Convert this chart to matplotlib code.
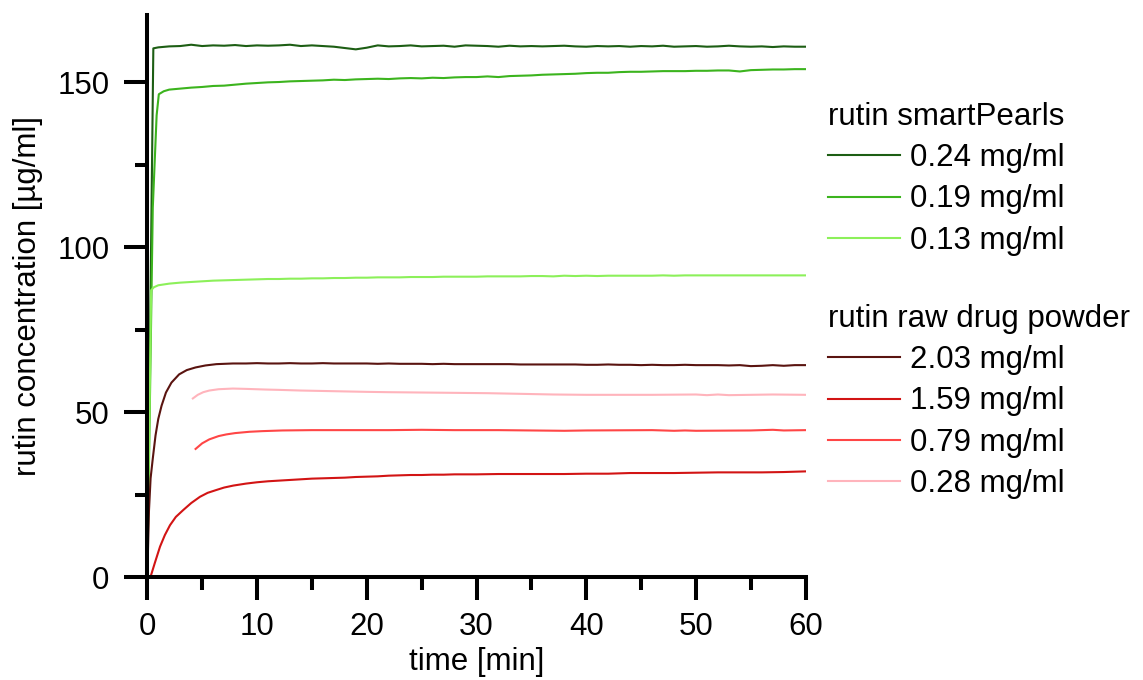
import matplotlib
matplotlib.use("Agg")
import matplotlib.pyplot as plt
from matplotlib.ticker import MultipleLocator

plt.rcParams["font.family"] = ["Liberation Sans", "DejaVu Sans"]

# ---- data: rutin dissolution, concentration [µg/ml] vs time [min] ----
minutes = list(range(1, 61))

t_sp024 = [0, 0.55] + minutes
c_sp024 = [0, 160.3,
           160.6, 160.9, 161.0, 161.4, 161.0, 161.2, 161.1, 161.3, 161.0, 161.2,
           161.1, 161.2, 161.4, 161.0, 161.2, 161.0, 160.8, 160.4, 160.0, 160.5,
           161.2, 160.9, 161.0, 161.2, 160.9, 161.0, 161.1, 160.8, 161.2, 161.1,
           161.0, 160.8, 161.1, 160.9, 161.0, 160.9, 161.0, 161.1, 160.9, 160.8,
           161.0, 160.9, 161.0, 160.8, 161.0, 160.9, 161.1, 160.8, 160.9, 161.0,
           160.8, 160.9, 161.1, 160.9, 160.8, 160.9, 160.7, 160.9, 160.8, 160.8]

t_sp019 = [0, 0.5, 0.85, 1.05, 1.5] + minutes[1:]
c_sp019 = [0, 112.0, 140.0, 146.4, 147.3,
           147.8, 148.1, 148.4, 148.6, 148.9, 149.0, 149.3, 149.6, 149.8, 150.0,
           150.1, 150.3, 150.4, 150.5, 150.6, 150.8, 150.7, 150.9, 151.0, 151.1,
           151.0, 151.2, 151.3, 151.2, 151.4, 151.3, 151.5, 151.6, 151.6, 151.8,
           151.6, 151.9, 152.0, 152.1, 152.3, 152.4, 152.5, 152.6, 152.8, 152.9,
           152.9, 153.1, 153.2, 153.2, 153.3, 153.4, 153.4, 153.4, 153.5, 153.5,
           153.6, 153.6, 153.3, 153.7, 153.8, 153.9, 153.9, 154.0, 154.0]

t_sp013 = [0, 0.35, 0.6] + minutes
c_sp013 = [0, 87.0, 87.9,
           88.5, 89.0, 89.3, 89.5, 89.7, 89.9, 90.0, 90.1, 90.2, 90.3,
           90.4, 90.4, 90.5, 90.5, 90.6, 90.6, 90.7, 90.7, 90.8, 90.8,
           90.9, 90.9, 90.9, 91.0, 91.0, 91.0, 91.1, 91.1, 91.1, 91.1,
           91.2, 91.2, 91.2, 91.2, 91.3, 91.3, 91.2, 91.4, 91.3, 91.4,
           91.3, 91.4, 91.4, 91.4, 91.4, 91.4, 91.5, 91.4, 91.5, 91.5,
           91.5, 91.5, 91.5, 91.5, 91.5, 91.5, 91.5, 91.5, 91.5, 91.5]

t_rp203 = [0, 0.15, 0.3, 0.5, 0.75, 1.0, 1.3, 1.7, 2.2, 2.9, 3.6, 4.4, 5.3,
           6.3, 7.8] + minutes[8:]
c_rp203 = [0, 20.0, 30.0, 36.0, 43.0, 48.0, 52.0, 56.0, 59.0, 61.5, 62.8,
           63.6, 64.2, 64.6, 64.8,
           64.8, 64.9, 64.8, 64.8, 64.9, 64.8, 64.8, 64.9, 64.8, 64.8, 64.8, 64.8,
           64.7, 64.8, 64.7, 64.7, 64.7, 64.6, 64.7, 64.6, 64.6, 64.6, 64.6, 64.6,
           64.6, 64.5, 64.5,
           64.5, 64.5, 64.5, 64.5, 64.4, 64.4, 64.5, 64.4, 64.4, 64.3, 64.4, 64.3,
           64.3, 64.4, 64.3,
           64.3, 64.3, 64.2, 64.3, 64.0, 64.1, 64.3, 64.1, 64.3, 64.3]

t_rp159 = [0, 0.3, 0.7, 1.16, 1.6, 2.07, 2.6, 3.28, 4.0, 4.8, 5.5, 6.33, 7.0,
           7.84, 9, 10, 11, 12, 13, 14, 15, 16, 17, 18, 19, 20, 21, 22, 23, 24,
           25, 26, 27, 28, 29, 30, 32, 34, 36, 38, 40, 42, 44, 46, 48, 50, 52,
           54, 56, 58, 60]
c_rp159 = [0, 0.2, 4.5, 9.3, 12.8, 15.8, 18.3, 20.4, 22.5, 24.4, 25.6, 26.5,
           27.2, 27.8, 28.4, 28.8, 29.1, 29.3, 29.5, 29.7, 29.9, 30.0, 30.1,
           30.2, 30.4, 30.5, 30.6, 30.8, 30.9, 31.0, 31.0, 31.1, 31.1, 31.2,
           31.2, 31.2, 31.3, 31.3, 31.3, 31.3, 31.4, 31.4, 31.6, 31.6, 31.6,
           31.7, 31.8, 31.8, 31.8, 31.9, 32.1]

t_rp079 = [4.4, 5.0, 5.65, 6.5, 7.2, 8, 9.3, 10.5, 12.3, 15, 18, 22, 25, 28,
           32, 38, 40, 46, 48, 49, 50, 55, 57, 58, 60]
c_rp079 = [38.9, 40.6, 41.8, 42.8, 43.3, 43.7, 44.1, 44.3, 44.5, 44.6, 44.6,
           44.6, 44.7, 44.6, 44.6, 44.4, 44.5, 44.6, 44.4, 44.5, 44.4, 44.5,
           44.7, 44.5, 44.6]

t_rp028 = [4.15, 4.6, 5.1, 5.65, 6.5, 7.8, 9, 10.8, 12, 14, 17, 20, 22, 25,
           28, 31, 34, 37, 40, 46, 50, 51, 52, 53, 55, 57, 60]
c_rp028 = [54.2, 55.3, 56.1, 56.6, 57.0, 57.2, 57.1, 56.9, 56.8, 56.6, 56.4,
           56.2, 56.1, 56.0, 55.9, 55.8, 55.6, 55.4, 55.3, 55.3, 55.4, 55.2,
           55.4, 55.2, 55.3, 55.4, 55.3]

smartpearls = [
    ("0.24 mg/ml", t_sp024, c_sp024, "#1d5e14"),
    ("0.19 mg/ml", t_sp019, c_sp019, "#3cb41e"),
    ("0.13 mg/ml", t_sp013, c_sp013, "#8cf05a"),
]
raw_powder = [
    ("2.03 mg/ml", t_rp203, c_rp203, "#5a1410"),
    ("1.59 mg/ml", t_rp159, c_rp159, "#d21414"),
    ("0.79 mg/ml", t_rp079, c_rp079, "#ff4646"),
    ("0.28 mg/ml", t_rp028, c_rp028, "#ffb4bc"),
]

FS = 22.5

fig = plt.figure(figsize=(11.43, 6.80), dpi=100)
ax = fig.add_axes([147.3 / 1143, 1 - 577.3 / 680, 658.4 / 1143, 562.6 / 680])

h_sp, h_rp = [], []
for label, t, c, col in smartpearls:
    h_sp += ax.plot(t, c, color=col, lw=1.5, label=label)
for label, t, c, col in raw_powder:
    h_rp += ax.plot(t, c, color=col, lw=1.5, label=label)

ax.set_xlim(0, 60)
ax.set_ylim(0, 170.5)
ax.xaxis.set_major_locator(MultipleLocator(10))
ax.xaxis.set_minor_locator(MultipleLocator(5))
ax.yaxis.set_major_locator(MultipleLocator(50))
ax.yaxis.set_minor_locator(MultipleLocator(25))

for side in ("top", "right"):
    ax.spines[side].set_visible(False)
for side in ("left", "bottom"):
    ax.spines[side].set_linewidth(2.9)

ax.tick_params(which="major", length=16.3, width=2.9, labelsize=FS)
ax.tick_params(which="minor", length=9.0, width=2.9)
ax.tick_params(axis="x", which="major", pad=8.5)
ax.tick_params(axis="y", which="major", pad=11)

ax.set_xlabel("time [min]", fontsize=FS, labelpad=4)
ax.set_ylabel("rutin concentration [µg/ml]", fontsize=FS)
ax.yaxis.set_label_coords(-0.158, 0.5)

legend_kw = dict(frameon=False, fontsize=FS, title_fontsize=FS,
                 alignment="left", loc="upper left", borderpad=0,
                 borderaxespad=0, handlelength=2.3, handletextpad=0.32,
                 labelspacing=0.36, bbox_transform=fig.transFigure)
leg1 = ax.legend(handles=h_sp, title="rutin smartPearls",
                 bbox_to_anchor=(828 / 1143, 1 - 102 / 680), **legend_kw)
ax.add_artist(leg1)
ax.legend(handles=h_rp, title="rutin raw drug powder",
          bbox_to_anchor=(828 / 1143, 1 - 304 / 680), **legend_kw)

fig.savefig("out.png", dpi=100)
